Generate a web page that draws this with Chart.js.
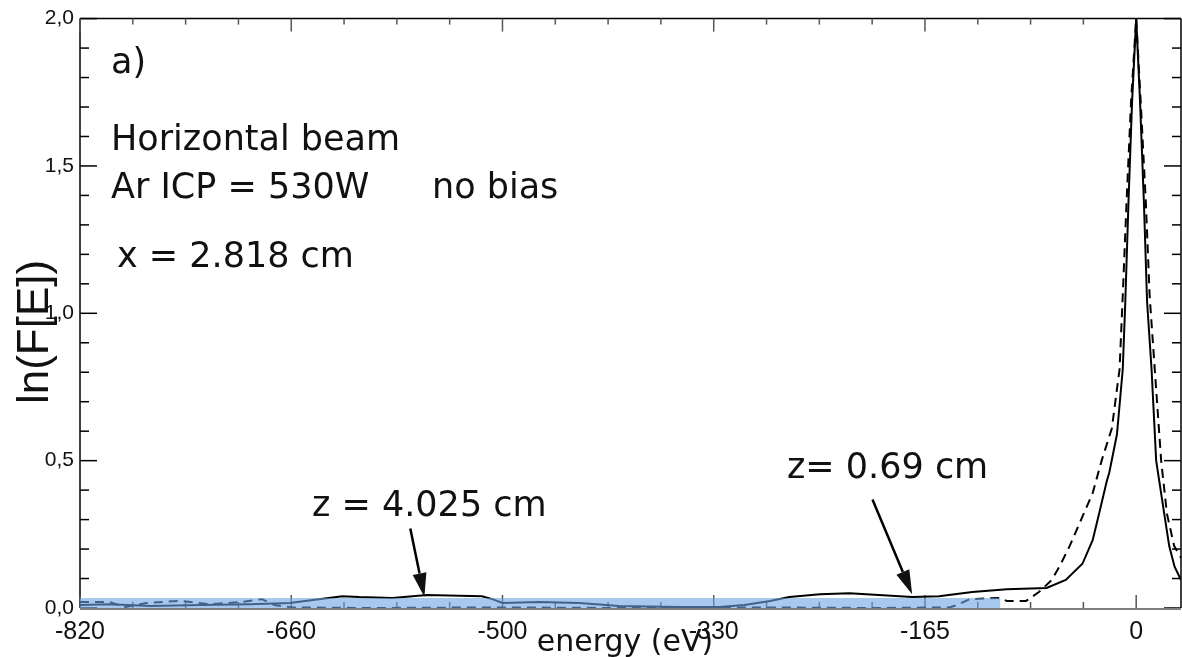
<!DOCTYPE html>
<html lang="en">
<head>
  <meta charset="UTF-8">
  <title>ln(F[E]) vs energy</title>
  <script src="https://cdn.jsdelivr.net/npm/chart.js"></script>
  <style>
    html, body { margin: 0; padding: 0; background: #fff; }
    .chart-box { width: 1182px; height: 657px; position: relative; }
  </style>
</head>
<body>
  <div class="chart-box"><canvas id="energyChart"></canvas></div>
  <script>
    // axis ticks (the printed labels are rounded, ticks sit every 165 eV)
    const energyTicks = [-825, -660, -495, -330, -165, 0];
    const energyTickLabels = ['-820', '-660', '-500', '-330', '-165', '0'];
    const lnTicks = [0, 0.5, 1, 1.5, 2];
    const lnTickLabels = ['0,0', '0,5', '1,0', '1,5', '2,0'];

    // solid curve, z = 4.025 cm
    const solidEnergy = [-825, -802, -770, -731, -692, -661, -643, -620, -607, -581, -554, -511, -503, -495,
      -466, -435, -404, -357, -326, -306, -286, -271, -247, -224, -201, -175, -154, -128, -101, -70,
      -55, -42, -34, -29, -23, -21, -15, -10.5, -8.5, -6, -3.2, 0, 3, 6, 8.5, 12, 15.6, 21.9, 25.8, 30, 35];
    const solidLn = [0.010, 0.013, 0.007, 0.010, 0.013, 0.017, 0.027, 0.040, 0.037, 0.034, 0.044, 0.040, 0.030, 0.017,
      0.020, 0.017, 0.007, 0.003, 0.003, 0.010, 0.024, 0.037, 0.047, 0.050, 0.044, 0.037, 0.040, 0.054, 0.064, 0.068,
      0.095, 0.15, 0.23, 0.32, 0.43, 0.46, 0.59, 0.81, 1.04, 1.38, 1.72, 2.0, 1.72, 1.38, 1.04, 0.81, 0.50, 0.32, 0.21, 0.14, 0.095];

    // dashed curve, z = 0.69 cm
    const dashedEnergy = [-825, -802, -790, -773, -747, -724, -700, -683, -673, -659, -600, -500, -400, -300, -200,
      -146, -140, -130, -107, -101, -86, -76, -66, -60, -52, -42, -34, -27, -19, -13, -10.5, -7.5, -4, 0,
      3.5, 7.5, 10.5, 14.5, 19.5, 24, 29.7, 35];
    const dashedLn = [0.020, 0.020, 0.003, 0.017, 0.024, 0.013, 0.020, 0.030, 0.010, 0.002, 0.000, 0.002, 0.000, 0.002, 0.000,
      0.002, 0.010, 0.030, 0.034, 0.024, 0.024, 0.054, 0.095, 0.14, 0.21, 0.31, 0.39, 0.50, 0.61, 0.81, 1.06, 1.38, 1.72, 2.0,
      1.72, 1.38, 1.06, 0.81, 0.50, 0.32, 0.21, 0.17];

    // shaded low-signal band
    const bandEnergy = [-825, -106];
    const bandLn = [0.034, 0.034];

    // annotation arrows (data coordinates)
    const arrowTails = [[-567, 0.27], [-206, 0.368]];
    const arrowTips = [[-556, 0.037], [-175, 0.047]];

    const toPoints = (xs, ys) => xs.map((v, i) => ({ x: v, y: ys[i] }));

    // axes frame with major and minor tick marks on all four sides
    const frame = {
      id: 'frame',
      beforeDatasetsDraw(chart) {
        const { ctx, chartArea: a, scales: { x, y } } = chart;
        const seg = (x1, y1, x2, y2) => { ctx.beginPath(); ctx.moveTo(x1, y1); ctx.lineTo(x2, y2); ctx.stroke(); };
        ctx.save();
        ctx.strokeStyle = '#000';
        ctx.lineWidth = 1.5;
        seg(a.left, a.bottom, a.left, a.top);
        seg(a.left, a.top, a.right, a.top);
        seg(a.right, a.top, a.right, a.bottom);
        for (let k = 0; k <= 20; k++) {
          const py = y.getPixelForValue(k / 10);
          const len = k % 5 === 0 ? 17 : 9;
          seg(a.left, py, a.left + len, py);
          seg(a.right, py, a.right - len, py);
        }
        ctx.strokeStyle = '#555';
        for (let k = 0; k <= 20; k++) {
          const v = energyTicks[0] + k * 41.25;
          const px = x.getPixelForValue(v);
          const len = k % 4 === 0 ? 13 : 6;
          seg(px, a.bottom, px, a.bottom - len);
          seg(px, a.top, px, a.top + len);
        }
        ctx.strokeStyle = '#808080';
        ctx.lineWidth = 2;
        seg(a.left, a.bottom + 1, a.right, a.bottom + 1);
        ctx.restore();
      }
    };

    // text labels and arrows drawn over the data
    const notes = {
      id: 'notes',
      afterDatasetsDraw(chart) {
        const { ctx, scales: { x, y } } = chart;
        ctx.save();
        ctx.fillStyle = '#111';
        ctx.textBaseline = 'alphabetic';
        ctx.textAlign = 'left';
        ctx.font = '35px "DejaVu Sans"';
        ctx.fillText('a)', 111, 73);
        ctx.fillText('Horizontal beam', 111, 150);
        ctx.fillText('Ar ICP = 530W', 111, 198);
        ctx.fillText('no bias', 432, 198);
        ctx.fillText('x = 2.818 cm', 117, 267);
        ctx.fillText('z = 4.025 cm', 312, 516);
        ctx.fillText('z= 0.69 cm', 787, 478);

        ctx.textAlign = 'center';
        ctx.font = '30px "DejaVu Sans"';
        ctx.fillText('energy (eV)', 625, 651);

        ctx.save();
        ctx.translate(36, 332);
        ctx.rotate(-Math.PI / 2);
        ctx.textBaseline = 'middle';
        ctx.font = '44px "Liberation Sans"';
        ctx.fillText('ln(F[E])', 0, 0);
        ctx.restore();

        ctx.strokeStyle = '#000';
        ctx.lineWidth = 2.5;
        arrowTails.forEach((t, i) => {
          const x1 = x.getPixelForValue(t[0]), y1 = y.getPixelForValue(t[1]);
          const x2 = x.getPixelForValue(arrowTips[i][0]), y2 = y.getPixelForValue(arrowTips[i][1]);
          const ang = Math.atan2(y2 - y1, x2 - x1);
          const head = 24, half = 7;
          const bx = x2 - head * Math.cos(ang), by = y2 - head * Math.sin(ang);
          ctx.beginPath();
          ctx.moveTo(x1, y1);
          ctx.lineTo(bx, by);
          ctx.stroke();
          ctx.beginPath();
          ctx.moveTo(x2, y2);
          ctx.lineTo(bx + half * Math.sin(ang), by - half * Math.cos(ang));
          ctx.lineTo(bx - half * Math.sin(ang), by + half * Math.cos(ang));
          ctx.closePath();
          ctx.fill();
        });
        ctx.restore();
      }
    };

    new Chart(document.getElementById('energyChart').getContext('2d'), {
      type: 'line',
      data: {
        datasets: [
          {
            label: 'band',
            data: toPoints(bandEnergy, bandLn),
            fill: 'origin',
            backgroundColor: 'rgba(110,165,225,0.6)',
            borderWidth: 0,
            pointRadius: 0,
            order: 0
          },
          {
            label: 'z = 4.025 cm',
            data: toPoints(solidEnergy, solidLn),
            borderColor: '#000',
            borderWidth: 2,
            pointRadius: 0,
            fill: false,
            order: 1
          },
          {
            label: 'z = 0.69 cm',
            data: toPoints(dashedEnergy, dashedLn),
            borderColor: '#000',
            borderWidth: 2,
            borderDash: [9, 6],
            pointRadius: 0,
            fill: false,
            order: 2
          }
        ]
      },
      options: {
        responsive: true,
        maintainAspectRatio: false,
        animation: false,
        layout: { padding: { top: 16, right: 1, left: 0, bottom: 0 } },
        plugins: { legend: { display: false }, tooltip: { enabled: false } },
        scales: {
          x: {
            type: 'linear',
            min: -825,
            max: 35,
            afterBuildTicks: axis => { axis.ticks = energyTicks.map(v => ({ value: v })); },
            afterFit: axis => { axis.height = 49; },
            grid: { display: false, drawTicks: false },
            border: { display: false },
            ticks: {
              padding: 9,
              color: '#111',
              font: { family: 'Liberation Sans', size: 25 },
              maxRotation: 0,
              autoSkip: false,
              callback: (v, i) => energyTickLabels[i]
            }
          },
          y: {
            min: 0,
            max: 2,
            afterBuildTicks: axis => { axis.ticks = lnTicks.map(v => ({ value: v })); },
            afterFit: axis => { axis.width = 80; },
            grid: { display: false, drawTicks: false },
            border: { display: false },
            ticks: {
              padding: 6,
              color: '#111',
              font: { family: 'Liberation Sans', size: 21 },
              callback: (v, i) => lnTickLabels[i]
            }
          }
        }
      },
      plugins: [frame, notes]
    });
  </script>
</body>
</html>
